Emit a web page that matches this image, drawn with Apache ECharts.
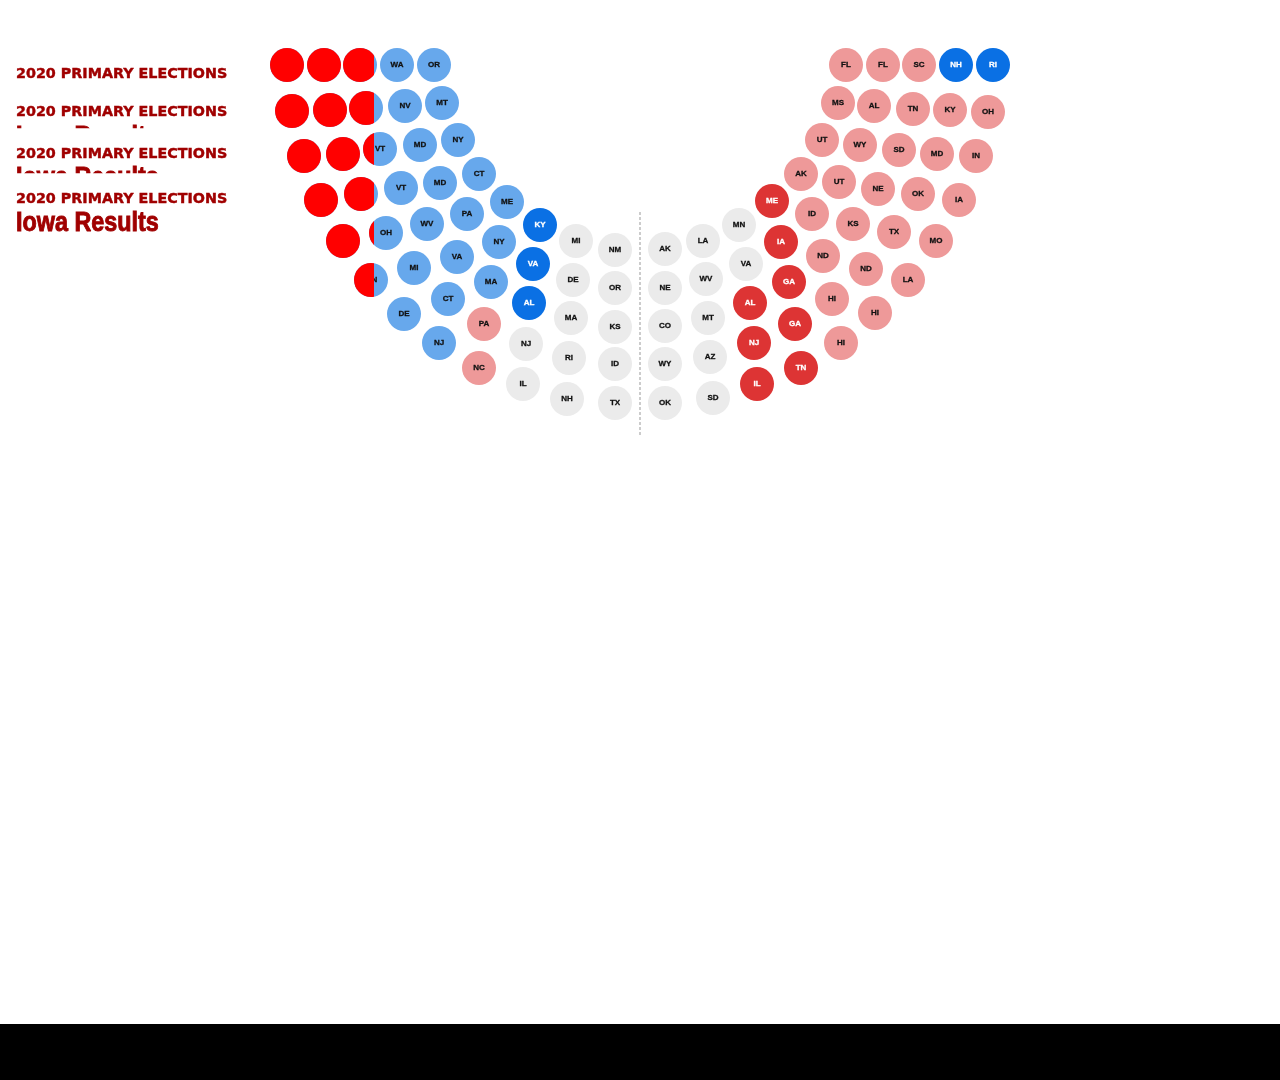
<!DOCTYPE html>
<html>
<head>
<meta charset="utf-8">
<script src="https://cdn.jsdelivr.net/npm/echarts@6/dist/echarts.min.js"></script>
<style>
html, body { margin: 0; padding: 0; background: #000; }
#chart { width: 1280px; height: 1024px; background: #fff; }
</style>
</head>
<body>
<div id="chart"></div>
<script>
// ---- Data: seats arranged in five concentric rows (inner -> outer), left to right ----
// x: offset from the centre divider, y: depth below the top row (chart units)
const ring1States  = ['OR','MT','NY','CT','ME','KY','MI','NM','AK','LA','MN','ME','AK','UT','MS','FL'];
const ring1Results = ['blue','blue','blue','blue','blue','blueStrong','none','none','none','none','none','redStrong','red','red','red','red'];
const ring1X = [-206,-198,-182,-161,-133,-100,-64,-25,25,63,99,132,161,182,198,206];
const ring1Y = [0,38,75,109,137,160,176,185,184,176,160,136,109,75,38,0];

const ring2States  = ['WA','NV','MD','MD','PA','NY','VA','DE','OR','NE','WV','VA','IA','ID','UT','WY','AL','FL'];
const ring2Results = ['blue','blue','blue','blue','blue','blue','blueStrong','none','none','none','none','none','redStrong','red','red','red','red','red'];
const ring2X = [-243,-235,-220,-200,-173,-141,-107,-67,-25,25,66,106,141,172,199,220,234,243];
const ring2Y = [0,41,80,118,149,177,199,215,223,223,214,199,177,149,117,80,41,0];

const ring3States  = ['','','VT','VT','WV','VA','MA','AL','MA','KS','CO','MT','AL','GA','ND','KS','NE','SD','TN','SC'];
const ring3Results = ['blue','blue','blue','blue','blue','blue','blue','blueStrong','none','none','none','none','redStrong','redStrong','red','red','red','red','red','red'];
const ring3X = [-280,-274,-260,-239,-213,-183,-149,-111,-69,-25,25,68,110,149,183,213,238,259,273,279];
const ring3Y = [0,43,84,123,159,192,217,238,253,262,261,253,238,217,191,159,124,85,44,0];

const ring4States  = ['','','','','OH','MI','CT','PA','NJ','RI','ID','WY','AZ','NJ','GA','HI','ND','TX','OK','MD','KY','NH'];
const ring4Results = ['blue','blue','blue','blue','blue','blue','blue','red','none','none','none','none','none','redStrong','redStrong','red','red','red','red','red','red','blueStrong'];
const ring4X = [-316,-310,-297,-279,-254,-226,-192,-156,-114,-71,-25,25,70,114,155,192,226,254,278,297,310,316];
const ring4Y = [0,45,89,129,168,203,234,259,279,293,299,299,292,278,259,234,204,167,129,89,45,0];

const ring5States  = ['','','','','','MN','DE','NJ','NC','IL','NH','TX','OK','SD','IL','TN','HI','HI','LA','MO','IA','IN','OH','RI'];
const ring5Results = ['blue','blue','blue','blue','blue','blue','blue','blue','red','none','none','none','none','none','redStrong','redStrong','red','red','red','red','red','red','red','blueStrong'];
const ring5X = [-353,-348,-336,-319,-297,-269,-236,-201,-161,-117,-73,-25,25,73,117,161,201,235,268,296,319,336,348,353];
const ring5Y = [0,46,91,135,176,215,249,278,303,319,334,338,338,333,319,303,278,248,215,176,135,91,47,0];

const resultKeys = ['blueStrong','blue','none','red','redStrong'];
const dividerRange = [147, 371];
const titleKicker = '2020 PRIMARY ELECTIONS';
const titleMain = 'Iowa Results';

// ---- Styles ----
const fillColors = { blueStrong: '#0a70e4', blue: '#67a8ec', none: '#ebebeb', red: '#ee9999', redStrong: '#dd3434' };
const textColors = { blueStrong: '#ffffff', blue: '#111111', none: '#111111', red: '#111111', redStrong: '#ffffff' };
const titleColor = '#a00000';

const rings = [
  [ring1States, ring1Results, ring1X, ring1Y],
  [ring2States, ring2Results, ring2X, ring2Y],
  [ring3States, ring3Results, ring3X, ring3Y],
  [ring4States, ring4Results, ring4X, ring4Y],
  [ring5States, ring5Results, ring5X, ring5Y]
];
const seats = [];
rings.forEach(([st, rs, xs, ys]) => {
  st.forEach((s, i) => seats.push({ name: s, result: rs[i], value: [xs[i], ys[i]] }));
});

const series = resultKeys.map(key => ({
  type: 'scatter',
  name: key,
  xAxisIndex: 0, yAxisIndex: 0,
  symbol: 'circle',
  symbolSize: 34,
  silent: true,
  z: 2,
  itemStyle: { color: fillColors[key], opacity: 1 },
  label: {
    show: true, position: 'inside', formatter: '{b}',
    color: textColors[key], fontSize: 8, fontWeight: 'bold',
    fontFamily: '"Liberation Sans", Arial, sans-serif',
    textBorderColor: textColors[key], textBorderWidth: 0.3
  },
  data: seats.filter(s => s.result === key).map(s => ({ name: s.name, value: s.value }))
}));

// centre divider
series.push({
  type: 'line', xAxisIndex: 0, yAxisIndex: 0, silent: true, z: 1,
  symbol: 'none',
  lineStyle: { color: '#cccccc', width: 2, type: [3, 2] },
  data: [[0, dividerRange[0]], [0, dividerRange[1]]]
});

// red overlay, clipped to the left band
series.push({
  type: 'custom', xAxisIndex: 1, yAxisIndex: 1, clip: true, silent: true, z: 5,
  renderItem: (params, api) => {
    const c = api.coord([api.value(0), api.value(1)]);
    return { type: 'circle', shape: { cx: c[0], cy: c[1], r: 17 }, style: { fill: '#ff0000' } };
  },
  data: seats.map(s => s.value)
});

const kickerFont = 'bold 13.5px "DejaVu Sans", sans-serif';
const mainFont = 'bold 27px "Liberation Sans", Arial, sans-serif';
function titleCopy(yc, z) {
  return [
    { type: 'text', x: 16, y: yc, z: z, scaleX: 1.06,
      style: { text: titleKicker, font: kickerFont, fill: titleColor, stroke: titleColor, lineWidth: 0.4,
               textVerticalAlign: 'middle', verticalAlign: 'middle' } },
    { type: 'text', x: 16, y: yc + 24.5, z: z, scaleX: 0.865,
      style: { text: titleMain, font: mainFont, fill: titleColor, stroke: titleColor, lineWidth: 0.9,
               textVerticalAlign: 'middle', verticalAlign: 'middle' } }
  ];
}
function mask(y0, y1, z) {
  return { type: 'rect', z: z, shape: { x: 0, y: y0, width: 262, height: y1 - y0 }, style: { fill: '#ffffff' } };
}
const graphicEls = [].concat(
  titleCopy(74.8, 10), [mask(85, 112, 11)],
  titleCopy(112.8, 12), [mask(128.3, 150, 13)],
  titleCopy(154, 14), [mask(173.3, 192, 15)],
  titleCopy(199, 16)
);

const chart = echarts.init(document.getElementById('chart'));
chart.setOption({
  animation: false,
  backgroundColor: '#ffffff',
  grid: [
    { left: 0, top: 0, width: 1280, height: 1024 },
    { left: 0, top: 0, width: 374, height: 1024 }
  ],
  xAxis: [
    { type: 'value', gridIndex: 0, min: -640, max: 640, show: false },
    { type: 'value', gridIndex: 1, min: -640, max: -266, show: false }
  ],
  yAxis: [
    { type: 'value', gridIndex: 0, min: -65, max: 959, inverse: true, show: false },
    { type: 'value', gridIndex: 1, min: -65, max: 959, inverse: true, show: false }
  ],
  graphic: { elements: graphicEls },
  series: series
});
</script>
</body>
</html>
